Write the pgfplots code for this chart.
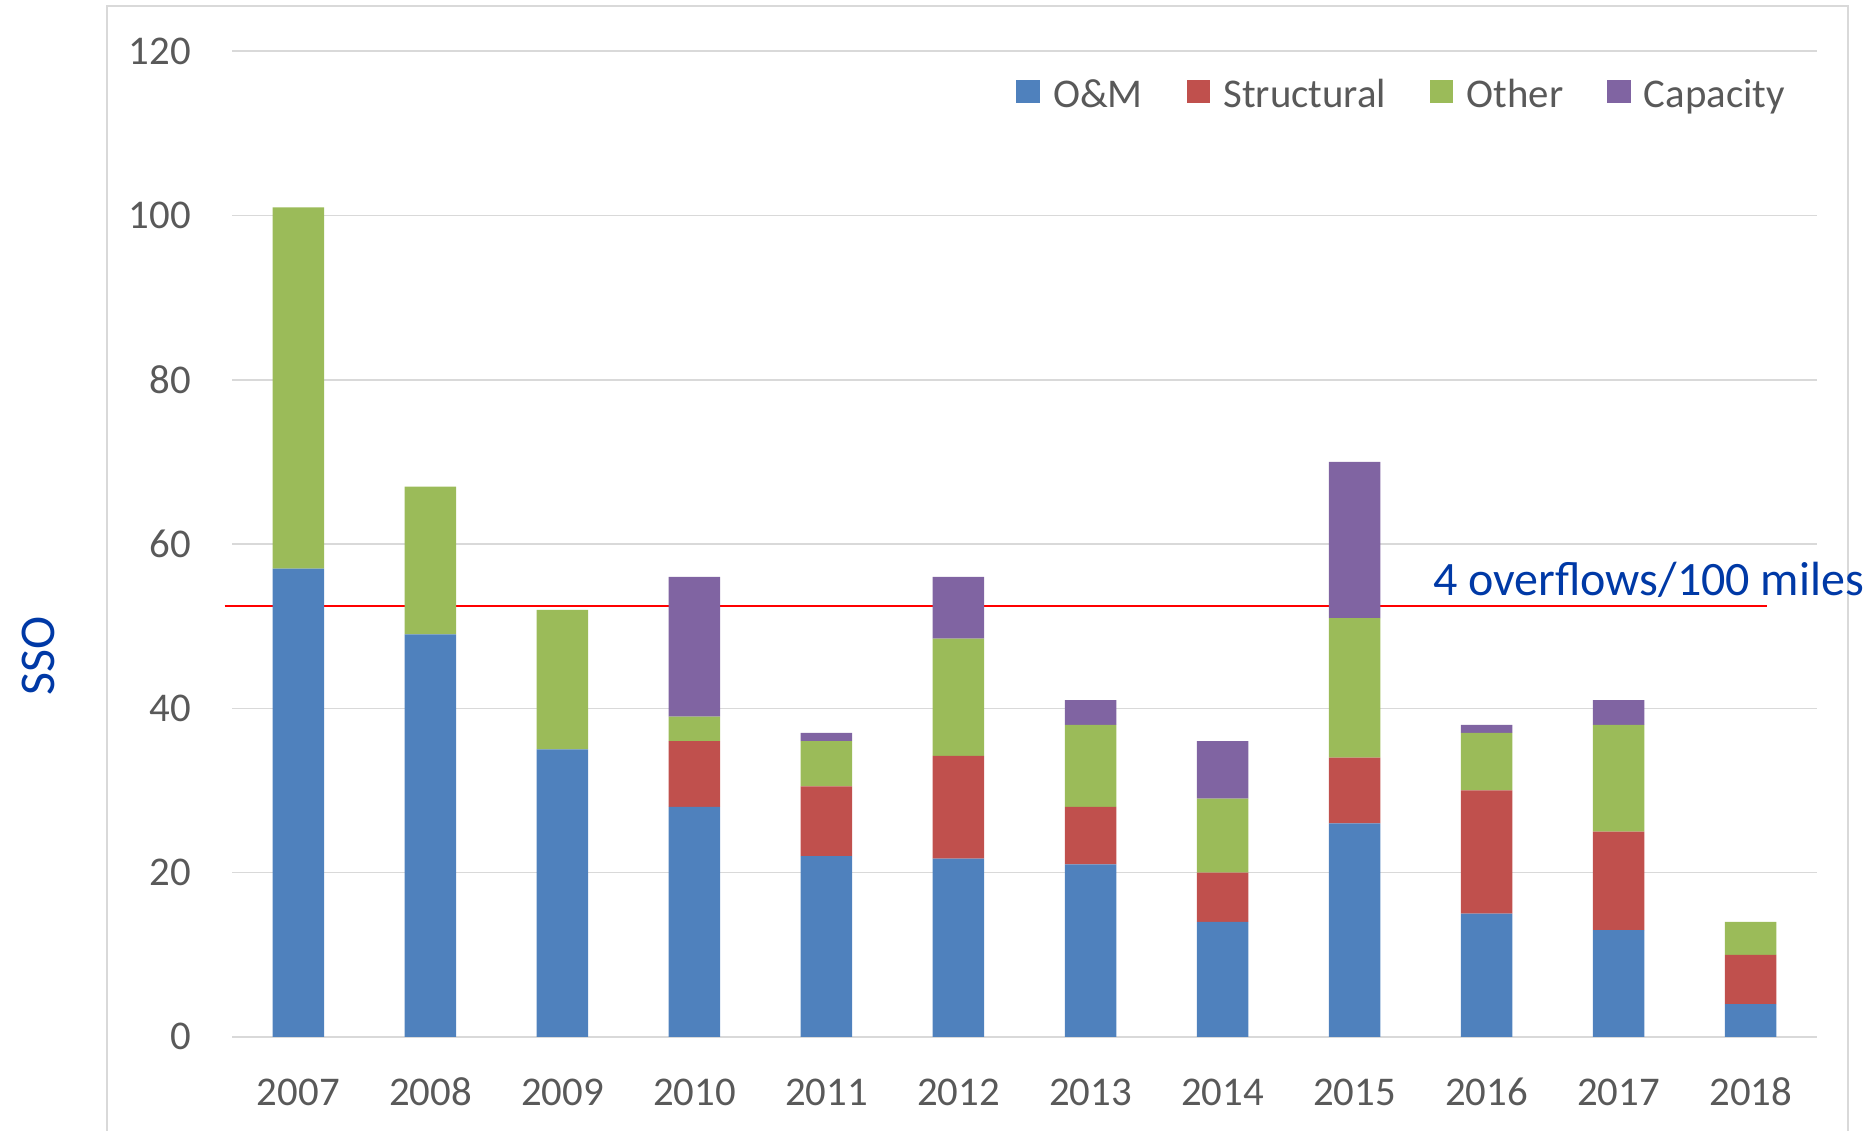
\documentclass[border=0pt]{standalone}
\usepackage{fontspec}
\setmainfont{Carlito}
\usepackage{pgfplots}
\pgfplotsset{compat=1.18}
\definecolor{om}{HTML}{4F81BD}
\definecolor{st}{HTML}{C0504D}
\definecolor{ot}{HTML}{9BBB59}
\definecolor{ca}{HTML}{8064A2}
\definecolor{gridgray}{HTML}{D9D9D9}
\definecolor{tickgray}{HTML}{595959}
\definecolor{darkblue}{HTML}{0039A6}
\begin{document}
\fontsize{10.2}{12.2}\selectfont
\begin{tikzpicture}
\draw[gridgray, line width=0.5pt] (-31.3pt,-40pt) -- (-31.3pt,257.7pt) -- (403.9pt,257.7pt) -- (403.9pt,-40pt);
\begin{axis}[
  at={(0,0)}, anchor=south west,
  scale only axis, width=396.1pt, height=246.4pt,
  ybar stacked, bar width=0.39,
  xmin=-0.5, xmax=11.5, ymin=0, ymax=120,
  xtick={0,...,11},
  xticklabels={2007,2008,2009,2010,2011,2012,2013,2014,2015,2016,2017,2018},
  ytick={0,20,...,120},
  major tick length=0pt,
  axis line style={draw=none},
  ymajorgrids, grid style={color=gridgray, line width=0.4pt},
  tick label style={font=\fontsize{10.2}{12}\selectfont, text=tickgray},
  /pgf/number format/assume math mode=true,
  xticklabel style={anchor=center, yshift=-13.8pt, inner sep=0pt},
  yticklabel style={anchor=east, xshift=-10.15pt, inner sep=0pt},
  clip=false,
  legend columns=4,
  legend style={draw=none, fill=none, at={(0.9805,0.9544)}, anchor=east, inner sep=0pt,
    nodes={inner sep=0pt},
    /tikz/every odd column/.append style={column sep=3.35pt},
    /tikz/every even column/.append style={column sep=11pt},
    font=\fontsize{10.2}{12}\selectfont, text=tickgray},
  legend image code/.code={\fill[#1] (0pt,-1.7pt) rectangle (5.8pt,4.1pt);},
]
\addplot[fill=om, draw=none] coordinates {(0,57) (1,49) (2,35) (3,28) (4,22) (5,21.7) (6,21) (7,14) (8,26) (9,15) (10,13) (11,4)};
\addlegendentry{O\&M}
\addplot[fill=st, draw=none] coordinates {(0,0) (1,0) (2,0) (3,8) (4,8.5) (5,12.5) (6,7) (7,6) (8,8) (9,15) (10,12) (11,6)};
\addlegendentry{Structural}
\addplot[fill=ot, draw=none] coordinates {(0,44) (1,18) (2,17) (3,3) (4,5.5) (5,14.3) (6,10) (7,9) (8,17) (9,7) (10,13) (11,4)};
\addlegendentry{Other}
\addplot[fill=ca, draw=none] coordinates {(0,0) (1,0) (2,0) (3,17) (4,1) (5,7.5) (6,3) (7,7) (8,19) (9,1) (10,3) (11,0)};
\addlegendentry{Capacity}
\draw[red, line width=0.45pt] (axis cs:-0.559,52.5) -- (axis cs:11.12,52.5);
\node[anchor=base west, inner sep=0pt, text=darkblue, font=\fontsize{12}{14}\selectfont] at (axis cs:8.59,53.7) {4 overflows/100 miles};
\end{axis}
\node[rotate=90, text=darkblue, inner sep=0pt, font=\fontsize{12.5}{14}\selectfont] at (-48.5pt,95.2pt) {SSO};
\pgfresetboundingbox
\useasboundingbox (-58.08pt,-23.28pt) rectangle (409.68pt,259.23pt);
\end{tikzpicture}
\end{document}
